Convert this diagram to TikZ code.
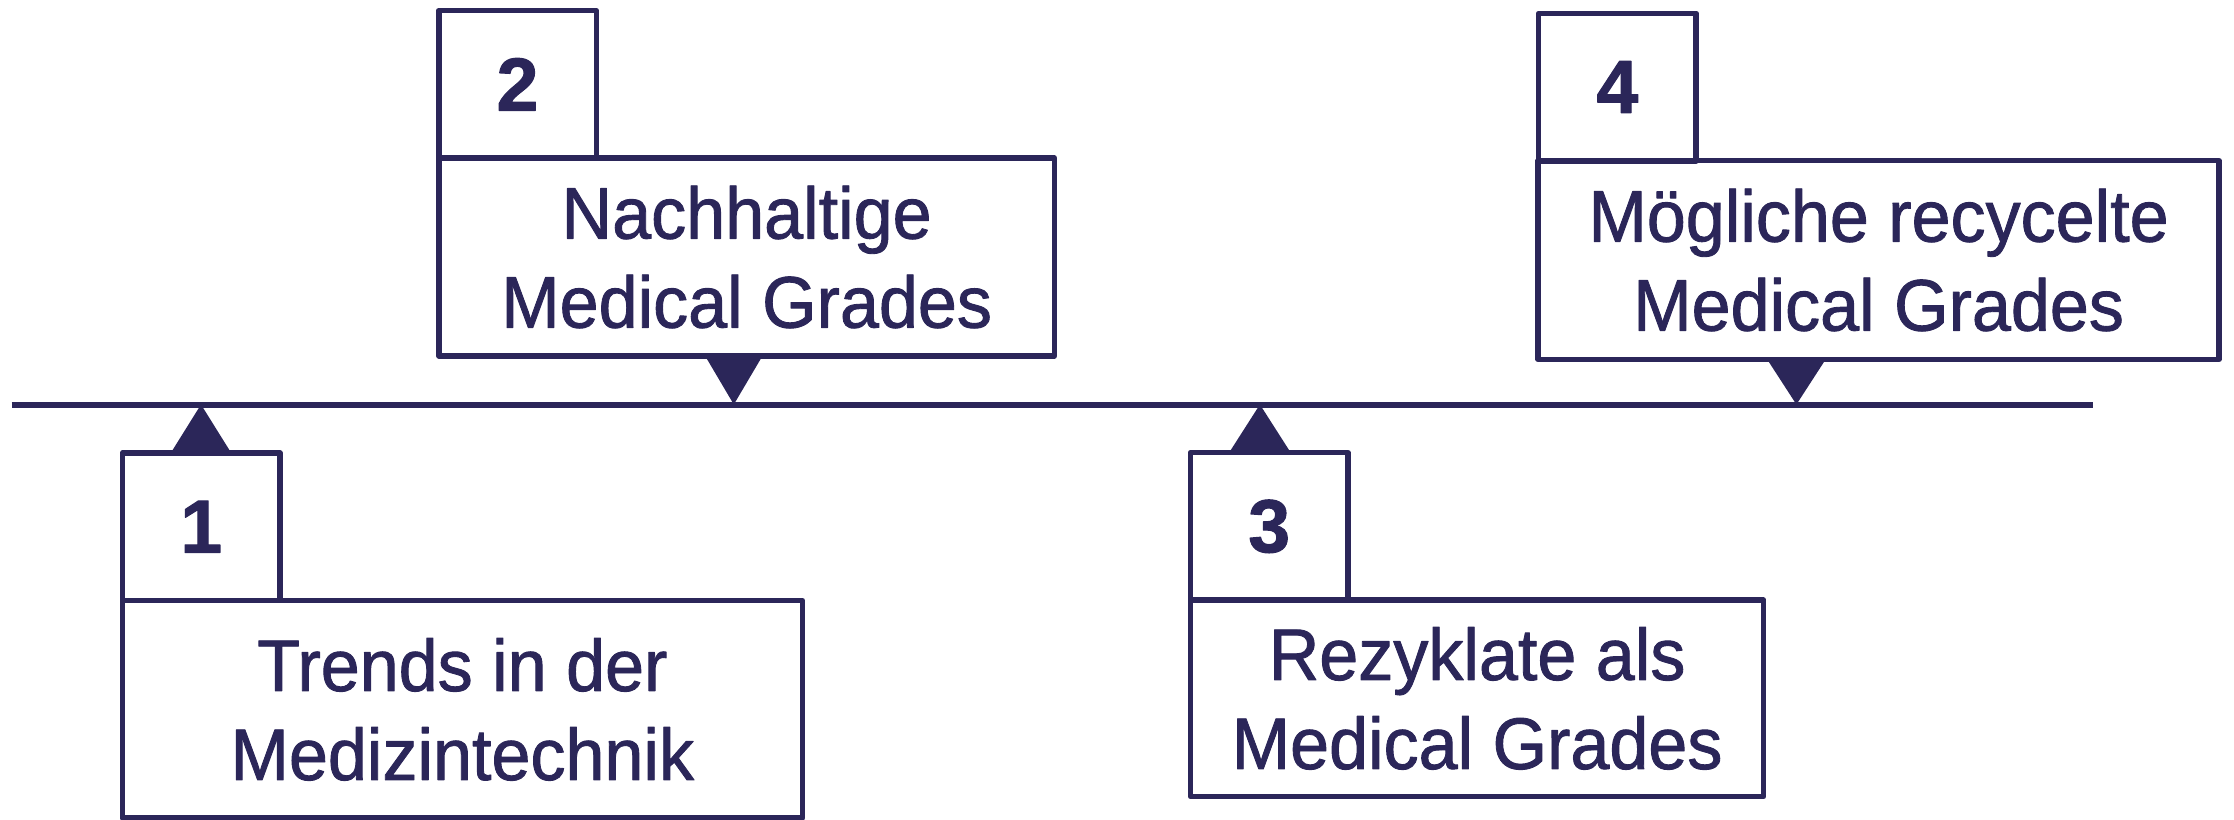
\documentclass[tikz,border=0pt]{standalone}
\usepackage{fontspec}
\setmainfont{Liberation Sans}[FakeStretch=0.96,FakeBold=1.2]
\newfontfamily\numfont{Liberation Sans}[FakeBold=1.5]
\definecolor{ink}{RGB}{43,38,89}
\begin{document}
\begin{tikzpicture}[x=1pt,y=-1pt,
  numbox/.style={draw=ink, line width=5.5pt, line join=round, inner sep=0pt,
    minimum width=157.5pt, minimum height=147.5pt,
    font=\numfont\bfseries\fontsize{75}{75}\selectfont, text=ink},
  textbox/.style={draw=ink, line width=5.5pt, line join=round, inner sep=0pt,
    align=center, font=\fontsize{73}{89}\selectfont, text=ink},
  marker/.style={fill=ink},
  timeline/.style={draw=ink, line width=6pt}
]
\useasboundingbox (0,0) rectangle (2234,819);

% timeline
\coordinate (tlstart) at (11.7,404.5);
\coordinate (tlend) at (2093.3,404.5);
\draw[timeline] (tlstart) -- (tlend);

% box 1
\node[textbox, minimum width=680.1pt, minimum height=217.3pt] (big1) at (462.35,709.35) {Trends in der\\Medizintechnik};
\node[numbox] (num1) at (201.2,526.7) {1};
% box 2
\node[textbox, minimum width=615.3pt, minimum height=198pt] (big2) at (746.65,257) {Nachhaltige\\Medical Grades};
\node[numbox] (num2) at (517.5,84.35) {2};
% box 3
\node[textbox, minimum width=573pt, minimum height=196.7pt] (big3) at (1477.1,698.35) {Rezyklate als\\Medical Grades};
\node[numbox] (num3) at (1269.2,526.35) {3};
% box 4
\node[textbox, minimum width=680.8pt, minimum height=198.6pt] (big4) at (1878.6,260) {Mögliche recycelte\\Medical Grades};
\node[numbox] (num4) at (1617.45,87) {4};

% markers (triangles pointing to the timeline)
\coordinate (a1) at (201,404.5);
\coordinate (a2) at (733.8,404.5);
\coordinate (a3) at (1259.9,404.5);
\coordinate (a4) at (1796.4,404.5);
\fill[marker] (a1 |- num1.north) ++(-28.5,0) -- (a1) -- ([xshift=28.5pt]a1 |- num1.north) -- cycle;
\fill[marker] (a2 |- big2.south) ++(-27,0) -- (a2) -- ([xshift=27pt]a2 |- big2.south) -- cycle;
\fill[marker] (a3 |- num3.north) ++(-29,0) -- (a3) -- ([xshift=29pt]a3 |- num3.north) -- cycle;
\fill[marker] (a4 |- big4.south) ++(-27.5,0) -- (a4) -- ([xshift=27.5pt]a4 |- big4.south) -- cycle;
\end{tikzpicture}
\end{document}
